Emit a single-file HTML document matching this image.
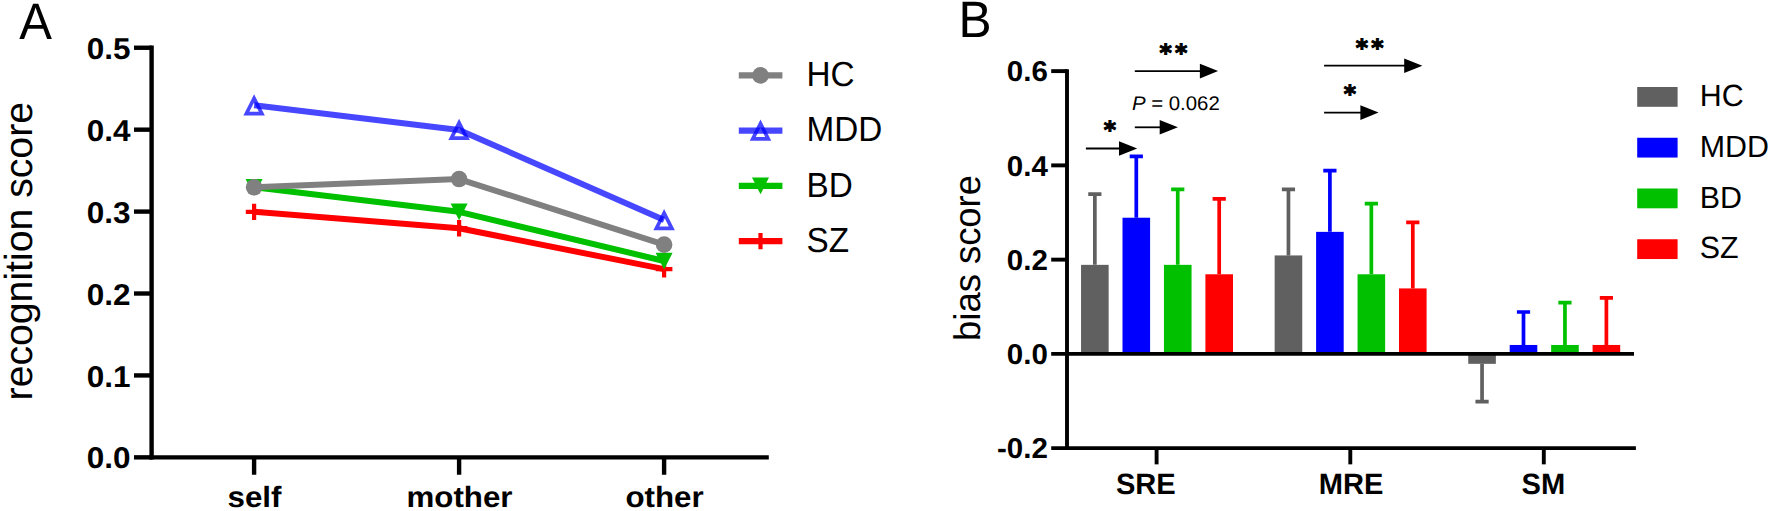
<!DOCTYPE html>
<html lang="en"><head><meta charset="utf-8"><title>Figure</title>
<style>
html,body{margin:0;padding:0;background:#fff;}
body{width:1770px;height:511px;overflow:hidden;}
svg{display:block;}
text{font-family:"Liberation Sans", Arial, Helvetica, sans-serif;fill:#000;text-rendering:geometricPrecision;}
.b{font-weight:bold;}
.st{font-family:"DejaVu Sans","Liberation Sans",sans-serif;font-weight:bold;stroke:#000;stroke-width:1.1px;letter-spacing:3.2px;}
</style></head><body>
<svg width="1770" height="511" viewBox="0 0 1770 511">
<rect width="1770" height="511" fill="#fff"/>
<g id="panelA">
<text transform="translate(19.30,39.45) scale(1.0,1.045)" text-anchor="start" font-size="49.0">A</text>
<text transform="translate(31.80,251.20) rotate(-90)" text-anchor="middle" font-size="39.2">recognition score</text>
<g stroke="#000" stroke-width="4.4" fill="none" stroke-linecap="butt">
<path d="M151.6 45.55 V459.55"/>
<path d="M149.4 457.35 H768.8000000000001"/>
<path d="M134.0 457.35 H151.6"/>
<path d="M134.0 375.43 H151.6"/>
<path d="M134.0 293.51 H151.6"/>
<path d="M134.0 211.59 H151.6"/>
<path d="M134.0 129.67 H151.6"/>
<path d="M134.0 47.75 H151.6"/>
<path d="M254.10 457.35 V474.75"/>
<path d="M459.10 457.35 V474.75"/>
<path d="M664.10 457.35 V474.75"/>
</g>
<text class="b" transform="translate(130.50,468.45) scale(1.0,0.955)" text-anchor="end" font-size="31.5">0.0</text>
<text class="b" transform="translate(130.50,386.53) scale(1.0,0.955)" text-anchor="end" font-size="31.5">0.1</text>
<text class="b" transform="translate(130.50,304.61) scale(1.0,0.955)" text-anchor="end" font-size="31.5">0.2</text>
<text class="b" transform="translate(130.50,222.69) scale(1.0,0.955)" text-anchor="end" font-size="31.5">0.3</text>
<text class="b" transform="translate(130.50,140.77) scale(1.0,0.955)" text-anchor="end" font-size="31.5">0.4</text>
<text class="b" transform="translate(130.50,58.85) scale(1.0,0.955)" text-anchor="end" font-size="31.5">0.5</text>
<text class="b" transform="translate(254.50,506.80) scale(1.0,0.935)" text-anchor="middle" font-size="31.3">self</text>
<text class="b" transform="translate(459.50,506.80) scale(1.0,0.935)" text-anchor="middle" font-size="31.3">mother</text>
<text class="b" transform="translate(664.50,506.80) scale(1.0,0.935)" text-anchor="middle" font-size="31.3">other</text>
<g>
<path d="M254.10 203.64 V220.04 M245.80 211.84 H262.40" stroke="#ff0000" stroke-width="4.2" fill="none"/>
<path d="M459.10 220.02 V236.42 M450.80 228.22 H467.40" stroke="#ff0000" stroke-width="4.2" fill="none"/>
<path d="M664.10 260.98 V277.38 M655.80 269.18 H672.40" stroke="#ff0000" stroke-width="4.2" fill="none"/>
<polyline points="254.10,211.84 459.10,228.22 664.10,269.18" fill="none" stroke="#ff0000" stroke-width="6.0" stroke-linejoin="round"/>
</g>
<g>
<path d="M245.60 178.96 H262.60 L254.10 195.66 Z" fill="#00c000"/>
<path d="M450.60 203.54 H467.60 L459.10 220.24 Z" fill="#00c000"/>
<path d="M655.60 252.69 H672.60 L664.10 269.39 Z" fill="#00c000"/>
<polyline points="254.10,187.26 459.10,211.84 664.10,260.99" fill="none" stroke="#00c000" stroke-width="6.0" stroke-linejoin="round"/>
</g>
<g>
<path fill-rule="evenodd" d="M254.10 94.24 L264.85 115.44 H243.35 Z M254.10 102.43 L258.83 111.74 H249.37 Z" fill="rgba(0,0,255,0.72)"/>
<path fill-rule="evenodd" d="M459.10 118.82 L469.85 140.02 H448.35 Z M459.10 127.00 L463.83 136.32 H454.37 Z" fill="rgba(0,0,255,0.72)"/>
<path fill-rule="evenodd" d="M664.10 208.93 L674.85 230.13 H653.35 Z M664.10 217.11 L668.83 226.43 H659.37 Z" fill="rgba(0,0,255,0.72)"/>
<polyline points="254.10,105.34 459.10,129.92 664.10,220.03" fill="none" stroke="rgba(0,0,255,0.72)" stroke-width="6.0" stroke-linejoin="round"/>
</g>
<g>
<circle cx="254.10" cy="187.26" r="8.3" fill="#808080"/>
<circle cx="459.10" cy="179.07" r="8.3" fill="#808080"/>
<circle cx="664.10" cy="244.61" r="8.3" fill="#808080"/>
<polyline points="254.10,187.26 459.10,179.07 664.10,244.61" fill="none" stroke="#808080" stroke-width="6.0" stroke-linejoin="round"/>
</g>
<circle cx="760.50" cy="75.40" r="8.3" fill="#808080"/>
<path d="M738.8 75.40 H782.4" stroke="#808080" stroke-width="6.1" fill="none"/>
<text transform="translate(806.50,86.10) scale(1.0,1.045)" text-anchor="start" font-size="33.3">HC</text>
<path fill-rule="evenodd" d="M760.50 119.55 L771.25 140.75 H749.75 Z M760.50 127.73 L765.23 137.05 H755.77 Z" fill="rgba(0,0,255,0.72)"/>
<path d="M738.8 130.65 H782.4" stroke="rgba(0,0,255,0.72)" stroke-width="6.1" fill="none"/>
<text transform="translate(806.50,141.35) scale(1.0,1.045)" text-anchor="start" font-size="33.3">MDD</text>
<path d="M752.00 177.60 H769.00 L760.50 194.30 Z" fill="#00c000"/>
<path d="M738.8 185.90 H782.4" stroke="#00c000" stroke-width="6.1" fill="none"/>
<text transform="translate(806.50,196.60) scale(1.0,1.045)" text-anchor="start" font-size="33.3">BD</text>
<path d="M760.50 232.95 V249.35 M752.20 241.15 H768.80" stroke="#ff0000" stroke-width="4.2" fill="none"/>
<path d="M738.8 241.15 H782.4" stroke="#ff0000" stroke-width="6.1" fill="none"/>
<text transform="translate(806.50,251.85) scale(1.0,1.045)" text-anchor="start" font-size="33.3">SZ</text>
</g>
<g id="panelB">
<text transform="translate(958.50,37.20) scale(1.0,1.03)" text-anchor="start" font-size="49.6">B</text>
<text transform="translate(980.20,258.00) rotate(-90) scale(1.0,1.02)" text-anchor="middle" font-size="36.4">bias score</text>
<rect x="1081.05" y="264.85" width="27.6" height="89.05" fill="#606060"/>
<path d="M1094.85 264.85 V194.16 M1088.25 194.16 H1101.45" stroke="#606060" stroke-width="3.7" fill="none"/>
<rect x="1122.50" y="217.72" width="27.6" height="136.18" fill="#0000ff"/>
<path d="M1136.30 217.72 V156.45 M1129.70 156.45 H1142.90" stroke="#0000ff" stroke-width="3.7" fill="none"/>
<rect x="1163.95" y="264.85" width="27.6" height="89.05" fill="#00c000"/>
<path d="M1177.75 264.85 V189.44 M1171.15 189.44 H1184.35" stroke="#00c000" stroke-width="3.7" fill="none"/>
<rect x="1205.40" y="274.28" width="27.6" height="79.62" fill="#ff0000"/>
<path d="M1219.20 274.28 V198.87 M1212.60 198.87 H1225.80" stroke="#ff0000" stroke-width="3.7" fill="none"/>
<rect x="1274.65" y="255.43" width="27.6" height="98.47" fill="#606060"/>
<path d="M1288.45 255.43 V189.44 M1281.85 189.44 H1295.05" stroke="#606060" stroke-width="3.7" fill="none"/>
<rect x="1316.10" y="231.86" width="27.6" height="122.04" fill="#0000ff"/>
<path d="M1329.90 231.86 V170.59 M1323.30 170.59 H1336.50" stroke="#0000ff" stroke-width="3.7" fill="none"/>
<rect x="1357.55" y="274.28" width="27.6" height="79.62" fill="#00c000"/>
<path d="M1371.35 274.28 V203.58 M1364.75 203.58 H1377.95" stroke="#00c000" stroke-width="3.7" fill="none"/>
<rect x="1399.00" y="288.42" width="27.6" height="65.48" fill="#ff0000"/>
<path d="M1412.80 288.42 V222.44 M1406.20 222.44 H1419.40" stroke="#ff0000" stroke-width="3.7" fill="none"/>
<rect x="1468.25" y="353.90" width="27.6" height="9.93" fill="#606060"/>
<path d="M1482.05 363.83 V401.53 M1475.45 401.53 H1488.65" stroke="#606060" stroke-width="3.7" fill="none"/>
<rect x="1509.70" y="344.97" width="27.6" height="8.93" fill="#0000ff"/>
<path d="M1523.50 344.97 V311.98 M1516.90 311.98 H1530.10" stroke="#0000ff" stroke-width="3.7" fill="none"/>
<rect x="1551.15" y="344.97" width="27.6" height="8.93" fill="#00c000"/>
<path d="M1564.95 344.97 V302.56 M1558.35 302.56 H1571.55" stroke="#00c000" stroke-width="3.7" fill="none"/>
<rect x="1592.60" y="344.97" width="27.6" height="8.93" fill="#ff0000"/>
<path d="M1606.40 344.97 V297.84 M1599.80 297.84 H1613.00" stroke="#ff0000" stroke-width="3.7" fill="none"/>
<g stroke="#000" stroke-width="3.9" fill="none">
<path d="M1067.0 69.17 V450.11"/>
<path d="M1051.2 353.90 H1634.0"/>
<path d="M1051.2 448.16 H1635.9"/>
<path d="M1051.2 259.64 H1067.0"/>
<path d="M1051.2 165.38 H1067.0"/>
<path d="M1051.2 71.12 H1067.0"/>
<path d="M1156.6 448.16 V464.36"/>
<path d="M1350.3 448.16 V464.36"/>
<path d="M1543.8 448.16 V464.36"/>
</g>
<text class="b" transform="translate(1047.80,458.46) scale(1.0,0.975)" text-anchor="end" font-size="29.5">-0.2</text>
<text class="b" transform="translate(1047.80,364.20) scale(1.0,0.975)" text-anchor="end" font-size="29.5">0.0</text>
<text class="b" transform="translate(1047.80,269.94) scale(1.0,0.975)" text-anchor="end" font-size="29.5">0.2</text>
<text class="b" transform="translate(1047.80,175.68) scale(1.0,0.975)" text-anchor="end" font-size="29.5">0.4</text>
<text class="b" transform="translate(1047.80,81.42) scale(1.0,0.975)" text-anchor="end" font-size="29.5">0.6</text>
<text class="b" transform="translate(1145.80,494.20) scale(1.0,1.01)" text-anchor="middle" font-size="29.1">SRE</text>
<text class="b" transform="translate(1351.00,494.20) scale(1.0,1.01)" text-anchor="middle" font-size="29.1">MRE</text>
<text class="b" transform="translate(1543.30,494.20) scale(1.0,1.01)" text-anchor="middle" font-size="29.1">SM</text>
<path d="M1134.8 71.1 H1200.8999999999999" stroke="#000" stroke-width="1.8" fill="none"/><path d="M1218.1 71.1 L1199.8999999999999 63.8 V78.39999999999999 Z" fill="#000"/>
<path d="M1134.8 127.3 H1160.7" stroke="#000" stroke-width="1.8" fill="none"/><path d="M1177.9 127.3 L1159.7 120.0 V134.6 Z" fill="#000"/>
<path d="M1085.9 148.5 H1120.0" stroke="#000" stroke-width="1.8" fill="none"/><path d="M1137.2 148.5 L1119.0 141.2 V155.8 Z" fill="#000"/>
<path d="M1324.1 65.7 H1405.2" stroke="#000" stroke-width="1.8" fill="none"/><path d="M1422.4 65.7 L1404.2 58.400000000000006 V73.0 Z" fill="#000"/>
<path d="M1324.1 112.6 H1361.3999999999999" stroke="#000" stroke-width="1.8" fill="none"/><path d="M1378.6 112.6 L1360.3999999999999 105.3 V119.89999999999999 Z" fill="#000"/>
<text transform="translate(1174.90,61.00)" text-anchor="middle" font-size="23.5" class="st">**</text>
<text transform="translate(1111.60,138.00)" text-anchor="middle" font-size="23.5" class="st">*</text>
<text transform="translate(1371.30,55.90)" text-anchor="middle" font-size="23.5" class="st">**</text>
<text transform="translate(1351.50,102.40)" text-anchor="middle" font-size="23.5" class="st">*</text>
<text transform="translate(1131.90,110.40) scale(1.0,0.97)" text-anchor="start" font-size="20.4"><tspan font-style="italic">P</tspan> = 0.062</text>
<rect x="1637.2" y="87.00" width="40.4" height="19.8" fill="#606060"/>
<text transform="translate(1699.70,106.20) scale(1.0,1.01)" text-anchor="start" font-size="30.4">HC</text>
<rect x="1637.2" y="137.75" width="40.4" height="19.8" fill="#0000ff"/>
<text transform="translate(1699.70,156.95) scale(1.0,1.01)" text-anchor="start" font-size="30.4">MDD</text>
<rect x="1637.2" y="188.50" width="40.4" height="19.8" fill="#00c000"/>
<text transform="translate(1699.70,207.70) scale(1.0,1.01)" text-anchor="start" font-size="30.4">BD</text>
<rect x="1637.2" y="239.25" width="40.4" height="19.8" fill="#ff0000"/>
<text transform="translate(1699.70,258.45) scale(1.0,1.01)" text-anchor="start" font-size="30.4">SZ</text>
</g>
</svg></body></html>
